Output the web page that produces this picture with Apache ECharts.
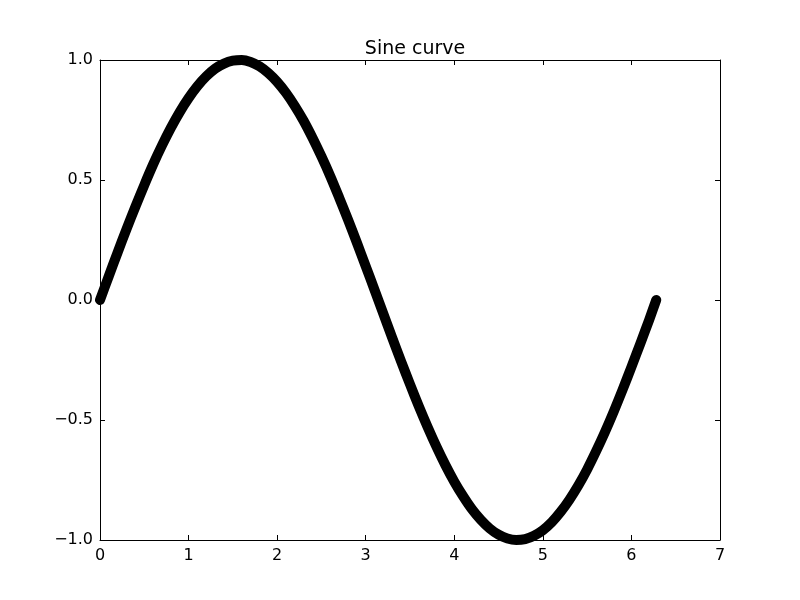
<!DOCTYPE html>
<html>
<head>
<meta charset="utf-8">
<script src="https://cdn.jsdelivr.net/npm/echarts@6/dist/echarts.min.js"></script>
<style>
  html, body { margin: 0; padding: 0; background: #fff; }
  #chart { width: 800px; height: 600px; }
</style>
</head>
<body>
<div id="chart"></div>
<script>
// values
const xValues = [0, 0.1, 0.2, 0.3, 0.4, 0.5, 0.6, 0.7, 0.8, 0.9,
  1.0, 1.1, 1.2, 1.3, 1.4, 1.5, 1.6, 1.7, 1.8, 1.9,
  2.0, 2.1, 2.2, 2.3, 2.4, 2.5, 2.6, 2.7, 2.8, 2.9,
  3.0, 3.1, 3.2, 3.3, 3.4, 3.5, 3.6, 3.7, 3.8, 3.9,
  4.0, 4.1, 4.2, 4.3, 4.4, 4.5, 4.6, 4.7, 4.8, 4.9,
  5.0, 5.1, 5.2, 5.3, 5.4, 5.5, 5.6, 5.7, 5.8, 5.9,
  6.0, 6.1, 6.2, 6.28]
const yValues = [0, 0.100, 0.199, 0.296, 0.389, 0.479, 0.565, 0.644, 0.717, 0.783,
  0.841, 0.891, 0.932, 0.964, 0.985, 0.997, 1.000, 0.992, 0.974, 0.946,
  0.909, 0.863, 0.808, 0.746, 0.675, 0.598, 0.516, 0.427, 0.335, 0.239,
  0.141, 0.042, -0.058, -0.158, -0.256, -0.351, -0.443, -0.530, -0.612, -0.688,
  -0.757, -0.818, -0.872, -0.916, -0.952, -0.978, -0.994, -1.000, -0.996, -0.982,
  -0.959, -0.926, -0.883, -0.832, -0.773, -0.706, -0.631, -0.551, -0.465, -0.374,
  -0.279, -0.182, -0.083, 0.000]
const xTicks = [0, 7, 1]
const yTicks = [-1, 1, 0.5]

const font = 'DejaVu Sans'
const line = { show: true, onZero: false, lineStyle: { color: '#000', width: 1 } }
const tick = { show: true, inside: true, length: 5, lineStyle: { color: '#000' } }

function axis(type, pos, range, showLabel, fmt) {
  return {
    type: 'value',
    position: pos,
    min: range[0],
    max: range[1],
    interval: range[2],
    axisLine: line,
    axisTick: tick,
    splitLine: { show: false },
    axisLabel: {
      show: showLabel,
      color: '#000',
      fontFamily: font,
      fontSize: 16,
      margin: type === 'x' ? 8 : 7,
      formatter: fmt,
    },
  }
}

const xFmt = v => String(v)
const yFmt = v => v.toFixed(1).replace('-', '\u2212')

const chart = echarts.init(document.getElementById('chart'))
chart.setOption({
  animation: false,
  title: {
    text: 'Sine curve',
    left: 410,
    top: 35,
    textAlign: 'center',
    textStyle: { color: '#000', fontFamily: font, fontSize: 19, fontWeight: 'normal' },
  },
  grid: { left: 100, right: 80, top: 60, bottom: 60 },
  xAxis: [axis('x', 'bottom', xTicks, true, xFmt), axis('x', 'top', xTicks, false, xFmt)],
  yAxis: [axis('y', 'left', yTicks, true, yFmt), axis('y', 'right', yTicks, false, yFmt)],
  series: [{
    type: 'line',
    data: xValues.map((x, i) => [x, yValues[i]]),
    symbol: 'none',
    smooth: 0.3,
    clip: true,
    lineStyle: { color: '#000', width: 10, cap: 'round', join: 'round' },
  }],
})
</script>
</body>
</html>
